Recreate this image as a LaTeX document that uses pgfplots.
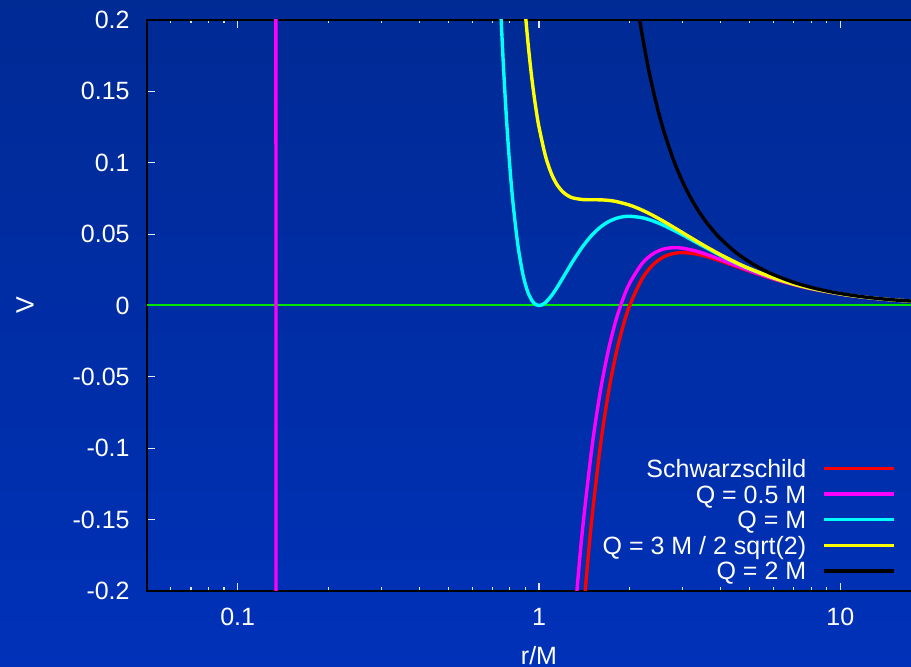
\documentclass[border=0pt]{standalone}
\usepackage{fontspec}
\setmainfont{Liberation Sans}
\usepackage{pgfplots}
\pgfplotsset{compat=1.18}
\definecolor{bgtop}{RGB}{0,42,148}
\definecolor{bgbot}{RGB}{0,49,184}
\definecolor{tickc}{RGB}{225,230,245}
\definecolor{zerogreen}{RGB}{0,230,0}
\definecolor{cred}{RGB}{255,0,0}
\definecolor{cmag}{RGB}{255,0,255}
\definecolor{ccyan}{RGB}{0,255,255}
\definecolor{cyel}{RGB}{255,255,0}
\definecolor{cblk}{RGB}{0,0,0}
\begin{document}
\fontsize{12.5}{15}\selectfont
\begin{tikzpicture}
\useasboundingbox (0,0) rectangle (455.5pt,333.5pt);
\shade[top color=bgtop, bottom color=bgbot] (0,0) rectangle (455.5pt,333.5pt);
\begin{axis}[
 at={(73.5pt,38pt)}, anchor=south west,
 scale only axis, width=392pt, height=285.5pt,
 xmode=log, xmin=0.05, xmax=20, ymin=-0.2, ymax=0.2,
 xtick={0.1,1,10}, xticklabels={0.1,1,10},
 minor xtick={0.06,0.07,0.08,0.09,0.2,0.3,0.4,0.5,0.6,0.7,0.8,0.9,2,3,4,5,6,7,8,9,20},
 ytick={-0.2,-0.15,-0.1,-0.05,0,0.05,0.1,0.15,0.2},
 yticklabels={-0.2,-0.15,-0.1,-0.05,0,0.05,0.1,0.15,0.2},
 tick align=inside,
 major tick length=4pt, minor tick length=1.75pt,
 every tick/.style={tickc, line width=0.6pt},
 axis line style={black, line width=0.7pt},
 tick label style={white, font=\fontsize{12.5}{15}\selectfont, inner sep=0pt},
 xticklabel shift=8.5pt, yticklabel shift=8.5pt,
 xlabel={r/M}, ylabel={V},
 every axis x label/.style={at={(rel axis cs:0.5,0)}, yshift=-37pt, anchor=base},
 every axis y label/.style={at={(rel axis cs:0,0.5)}, xshift=-61pt, rotate=90, anchor=center},
 label style={white, font=\fontsize{12.5}{15}\selectfont},
 legend style={at={(0.9554,0.2378)}, anchor=north east, draw=none, fill=none,
   inner sep=0pt, text=white, font=\fontsize{12.5}{15}\selectfont,
   nodes={inner sep=0pt, text height=10.9pt, text depth=1.9pt},
   column sep=8pt, row sep=0pt, cells={anchor=east}},
 legend cell align=right, legend plot pos=right,
 legend image code/.code={\draw[#1] (0pt,0pt) -- (35pt,0pt);},
]
\addplot[color=zerogreen, line width=1pt, forget plot, mark=none] coordinates {(0.05,0.0) (0.5,0.0) (5,0.0) (20,0.0)};

\addplot[color=cred, line width=1.7pt, smooth] coordinates {
(1.3,-0.31862)(1.35,-0.26419)(1.4,-0.2187)(1.45,-0.18041)(1.5,-0.14815)(1.6,-0.09766)(1.7,-0.06106)
(1.8,-0.03429)(1.9,-0.01458)(2.0,0)(2.2,0.01878)(2.4,0.02894)(2.6,0.03414)(2.8,0.03644)
(3.0,0.03704)(3.3,0.03617)(3.6,0.03429)(4,0.03125)(4.5,0.02743)(5,0.024)(6,0.018519)
(7,0.014577)(8,0.011719)(10,0.008)(12,0.005787)(15,0.003852)(20,0.00225)};
\addlegendentry{Schwarzschild}

\addplot[color=cmag, line width=1.7pt, forget plot] coordinates {
(0.1339,0.401)(0.13397,0.025)(0.1340,-0.137)(0.1341,-0.674)};
\addplot[color=cmag, line width=1.7pt, smooth] coordinates {
(1.2,-0.3424)(1.25,-0.2816)(1.3,-0.23109)(1.35,-0.18892)(1.4,-0.15358)(1.5,-0.09877)(1.6,-0.05951)
(1.7,-0.03113)(1.8,-0.01048)(1.9,0.004605)(2.0,0.015625)(2.2,0.029455)(2.4,0.03647)
(2.6,0.03961)(2.8,0.04051)(3.0,0.04012)(3.3,0.03828)(3.6,0.03578)(4,0.032227)(4.5,0.028044)
(5,0.0244)(6,0.018711)(7,0.014681)(8,0.01178)(10,0.008025)(12,0.005799)(15,0.003857)(20,0.002252)};
\addlegendentry{Q = 0.5 M}

\addplot[color=ccyan, line width=1.7pt, smooth] coordinates {
(0.70,0.37484)(0.72,0.29173)(0.74,0.22544)(0.76,0.17265)(0.78,0.13076)(0.80,0.09766)(0.82,0.07166)
(0.85,0.04310)(0.88,0.02401)(0.90,0.01524)(0.92,0.008934)(0.95,0.003069)(0.98,0.000434)
(1.0,0)(1.02,0.00037)(1.05,0.002057)(1.1,0.00683)(1.15,0.012865)(1.2,0.01929)(1.3,0.031512)
(1.4,0.041649)(1.5,0.049383)(1.6,0.054932)(1.7,0.058668)(1.8,0.060966)(1.9,0.062154)
(2.0,0.0625)(2.2,0.061471)(2.4,0.059076)(2.6,0.05602)(2.8,0.052712)(3.0,0.049383)
(3.3,0.044607)(3.6,0.040247)(4,0.035156)(4.5,0.029874)(5,0.0256)(6,0.01929)(7,0.014994)
(8,0.011963)(10,0.0081)(12,0.005835)(15,0.003872)(20,0.002256)};
\addlegendentry{Q = M}

\addplot[color=cyel, line width=1.7pt, smooth] coordinates {
(0.84,0.30249)(0.86,0.26435)(0.88,0.23245)(0.90,0.20576)(0.92,0.18342)(0.94,0.16471)(0.96,0.14905)
(0.98,0.13595)(1.0,0.125)(1.05,0.10489)(1.1,0.09221)(1.15,0.08433)(1.2,0.07957)(1.25,0.0768)
(1.3,0.07528)(1.4,0.07419)(1.5,0.07407)(1.6,0.07401)(1.7,0.07363)(1.8,0.07287)(2.0,0.07031)
(2.2,0.06681)(2.4,0.06284)(2.6,0.05876)(2.8,0.05475)(3.0,0.05093)(3.3,0.04566)(3.6,0.04099)
(4,0.03564)(4.5,0.03018)(5,0.0258)(6,0.019387)(7,0.015046)(8,0.011993)(10,0.0081125)
(12,0.005841)(15,0.003874)(20,0.002257)};
\addlegendentry{Q = 3 M / 2 sqrt(2)}

\addplot[color=cblk, line width=1.7pt, smooth] coordinates {
(2.0,0.25)(2.05,0.23229)(2.1,0.21647)(2.15,0.20229)(2.2,0.18954)(2.3,0.1676)(2.4,0.1495)(2.5,0.1344)
(2.6,0.12167)(2.8,0.10152)(3.0,0.08642)(3.2,0.07477)(3.4,0.06555)(3.6,0.05811)(3.8,0.05199)
(4,0.046875)(4.5,0.03719)(5,0.0304)(5.5,0.02541)(6,0.021605)(7,0.016243)(8,0.012695)
(9,0.010212)(10,0.0084)(12,0.00598)(15,0.003931)(20,0.002275)};
\addlegendentry{Q = 2 M}
\end{axis}
\end{tikzpicture}
\end{document}
